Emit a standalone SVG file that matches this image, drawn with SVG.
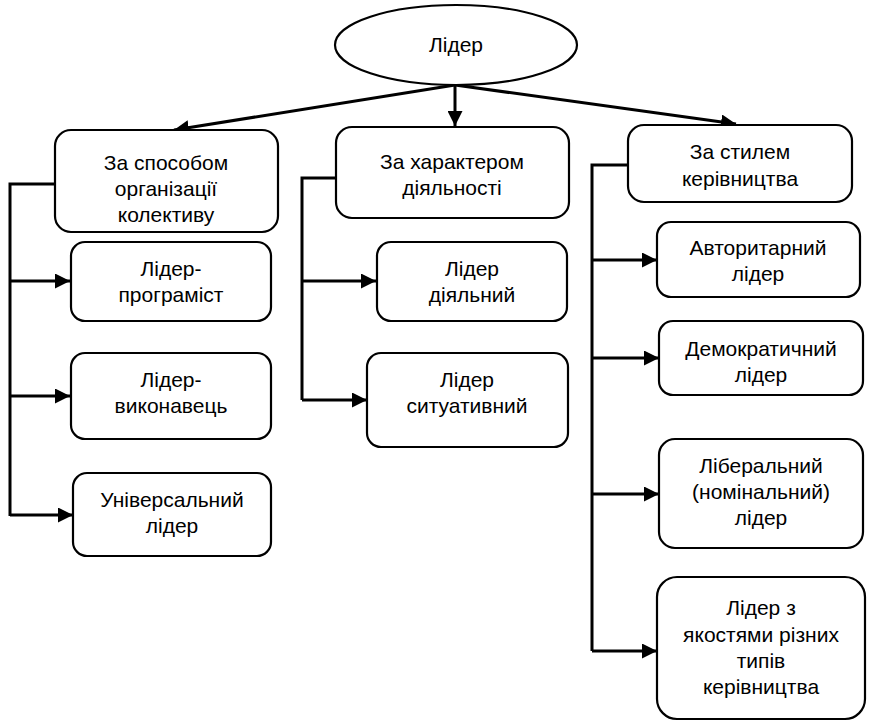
<svg xmlns="http://www.w3.org/2000/svg" width="870" height="722" viewBox="0 0 870 722">
<style>
.box{fill:#fff;stroke:#000;stroke-width:2.2}
.t{font-family:"Liberation Sans",Arial,sans-serif;font-size:21px;fill:#000;text-anchor:middle}
.c{fill:none;stroke:#000;stroke-width:3}
</style>
<defs>
<marker id="ah" viewBox="0 0 10 10" refX="10" refY="5" markerWidth="5" markerHeight="5" markerUnits="strokeWidth" orient="auto">
<path d="M0,0 L10,5 L0,10 z" fill="#000"/>
</marker>
</defs>
<rect width="870" height="722" fill="#fff"/>
<g id="connectors">
<line class="c" x1="455" y1="85" x2="174" y2="130" marker-end="url(#ah)"/>
<line class="c" x1="455" y1="85" x2="455" y2="126" marker-end="url(#ah)"/>
<line class="c" x1="455" y1="85" x2="736" y2="124" marker-end="url(#ah)"/>
<polyline class="c" points="55,184 10,184 10,516"/>
<line class="c" x1="10" y1="281" x2="70" y2="281" marker-end="url(#ah)"/>
<line class="c" x1="10" y1="396" x2="70" y2="396" marker-end="url(#ah)"/>
<line class="c" x1="10" y1="515" x2="73" y2="515" marker-end="url(#ah)"/>
<polyline class="c" points="336,178 302,178 302,400"/>
<line class="c" x1="302" y1="281" x2="376" y2="281" marker-end="url(#ah)"/>
<line class="c" x1="302" y1="400" x2="367" y2="400" marker-end="url(#ah)"/>
<polyline class="c" points="628,165 592,165 592,651"/>
<line class="c" x1="592" y1="260" x2="657" y2="260" marker-end="url(#ah)"/>
<line class="c" x1="592" y1="358" x2="659" y2="358" marker-end="url(#ah)"/>
<line class="c" x1="592" y1="494" x2="659" y2="494" marker-end="url(#ah)"/>
<line class="c" x1="592" y1="651" x2="657" y2="651" marker-end="url(#ah)"/>
</g>
<g id="root">
<ellipse class="box" cx="456" cy="45" rx="121" ry="40"/>
<text class="t" x="456" y="52">Лідер</text>
</g>
<g id="n-org">
<rect class="box" x="55" y="130" width="223" height="102" rx="16"/>
<text class="t" x="166" y="170">За способом</text>
<text class="t" x="166" y="196">організації</text>
<text class="t" x="166" y="222">колективу</text>
</g>
<g id="n-char">
<rect class="box" x="336" y="127" width="233" height="91" rx="16"/>
<text class="t" x="452" y="169">За характером</text>
<text class="t" x="452" y="195">діяльності</text>
</g>
<g id="n-style">
<rect class="box" x="628" y="125" width="224" height="77" rx="16"/>
<text class="t" x="740" y="159">За стилем</text>
<text class="t" x="740" y="186">керівництва</text>
</g>
<g id="n-prog">
<rect class="box" x="71" y="242" width="200" height="79" rx="14"/>
<text class="t" x="171" y="276">Лідер-</text>
<text class="t" x="171" y="302">програміст</text>
</g>
<g id="n-exec">
<rect class="box" x="71" y="353" width="200" height="86" rx="14"/>
<text class="t" x="171" y="387">Лідер-</text>
<text class="t" x="171" y="413">виконавець</text>
</g>
<g id="n-univ">
<rect class="box" x="73" y="473" width="198" height="83" rx="14"/>
<text class="t" x="172" y="507">Універсальний</text>
<text class="t" x="172" y="533">лідер</text>
</g>
<g id="n-active">
<rect class="box" x="377" y="242" width="190" height="79" rx="14"/>
<text class="t" x="472" y="276">Лідер</text>
<text class="t" x="472" y="302">діяльний</text>
</g>
<g id="n-situ">
<rect class="box" x="367" y="353" width="201" height="94" rx="14"/>
<text class="t" x="467" y="387">Лідер</text>
<text class="t" x="467" y="413">ситуативний</text>
</g>
<g id="n-auth">
<rect class="box" x="657" y="222" width="203" height="75" rx="14"/>
<text class="t" x="758" y="255">Авторитарний</text>
<text class="t" x="758" y="281">лідер</text>
</g>
<g id="n-demo">
<rect class="box" x="659" y="321" width="204" height="74" rx="14"/>
<text class="t" x="761" y="356">Демократичний</text>
<text class="t" x="761" y="382">лідер</text>
</g>
<g id="n-lib">
<rect class="box" x="659" y="439" width="204" height="109" rx="16"/>
<text class="t" x="761" y="473">Ліберальний</text>
<text class="t" x="761" y="499">(номінальний)</text>
<text class="t" x="761" y="525">лідер</text>
</g>
<g id="n-mixed">
<rect class="box" x="657" y="577" width="208" height="142" rx="20"/>
<text class="t" x="761" y="615">Лідер з</text>
<text class="t" x="761" y="642">якостями різних</text>
<text class="t" x="761" y="668">типів</text>
<text class="t" x="761" y="694">керівництва</text>
</g>
</svg>
